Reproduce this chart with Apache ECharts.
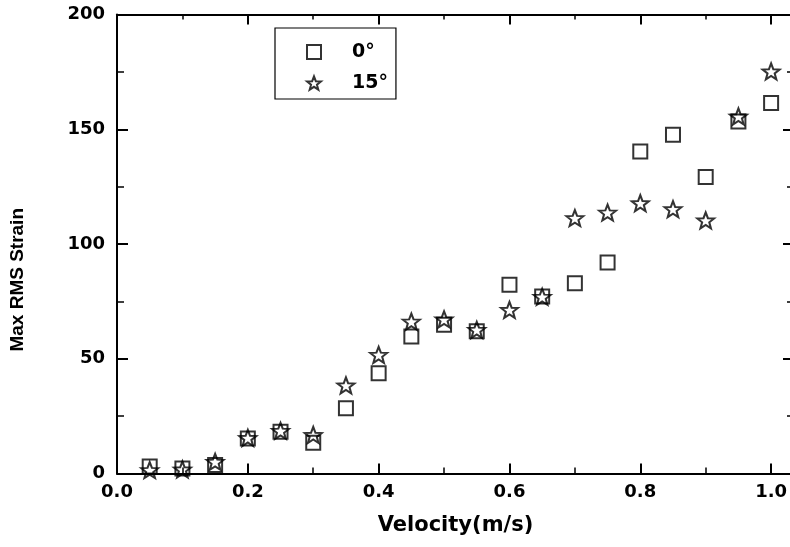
<!DOCTYPE html>
<html>
<head>
<meta charset="utf-8">
<script src="https://cdn.jsdelivr.net/npm/echarts@6/dist/echarts.min.js"></script>
<style>html,body{margin:0;padding:0;background:#fff;}#c{width:790px;height:547px;}</style>
</head>
<body>
<div id="c"></div>
<script>
var velocity = [0.05,0.10,0.15,0.20,0.25,0.30,0.35,0.40,0.45,0.50,0.55,0.60,0.65,0.70,0.75,0.80,0.85,0.90,0.95,1.00];
var strain0 = [3.0,2.2,3.7,15.3,18.2,13.4,28.4,43.7,59.7,64.8,62.0,82.2,77.1,82.9,91.9,140.3,147.6,129.2,153.4,161.4];
var strain15 = [1.5,1.8,5.1,15.5,18.6,16.8,38.4,51.7,66.2,67.2,62.6,71.3,77.0,111.3,113.7,117.8,115.2,110.3,155.6,175.2];
var xTicks = [0.0,0.2,0.4,0.6,0.8,1.0];
var yTicks = [0,50,100,150,200];
var seriesNames = ['0°','15°'];

var STAR = 'path://M100,0 L124.7,66 L195.1,69.1 L139.9,113 L158.8,180.9 L100,142 L41.2,180.9 L60.1,113 L4.9,69.1 L75.3,66 Z';
function pairs(xs, ys){ return xs.map(function(x,i){ return [x, ys[i]]; }); }

var hFont = 'DejaVu Sans';
var chart = echarts.init(document.getElementById('c'), null, {renderer:'canvas'});
function axisLine(){ return {show:true, onZero:false, lineStyle:{color:'#000', width:2}}; }
chart.setOption({
  animation:false,
  backgroundColor:'#fff',
  grid:{left:117, top:14.5, width:677, height:459, containLabel:false, outerBoundsMode:'none'},
  xAxis:[{
    type:'value', min:0, max:1.035, interval:0.2, position:'bottom',
    name:'Velocity(m/s)', nameLocation:'middle', nameGap:42,
    nameTextStyle:{fontFamily:hFont, fontWeight:'bold', fontSize:21, color:'#000'},
    axisLine:axisLine(),
    axisTick:{show:true, inside:true, length:10, lineStyle:{color:'#000', width:2}},
    minorTick:{show:true, splitNumber:2, length:6, lineStyle:{color:'#000', width:1.5}},
    axisLabel:{fontFamily:hFont, fontWeight:'bold', fontSize:18, color:'#000', margin:10, showMaxLabel:false,
      formatter:function(v){ return xTicks.some(function(t){return Math.abs(t-v)<1e-6;}) ? v.toFixed(1) : ''; }},
    splitLine:{show:false}
  },{
    type:'value', min:0, max:1.035, interval:0.2, position:'top',
    axisLine:axisLine(),
    axisTick:{show:true, inside:true, length:10, lineStyle:{color:'#000', width:2}},
    minorTick:{show:true, splitNumber:2, length:5, lineStyle:{color:'#000', width:1.5}},
    axisLabel:{show:false}, splitLine:{show:false}
  }],
  yAxis:[{
    type:'value', min:0, max:200, interval:50, position:'left',
    axisLine:axisLine(),
    axisTick:{show:true, inside:true, length:11, lineStyle:{color:'#000', width:2}},
    minorTick:{show:true, splitNumber:2, length:7, lineStyle:{color:'#000', width:1.5}},
    axisLabel:{fontFamily:hFont, fontWeight:'bold', fontSize:18, color:'#000', margin:12,
      formatter:function(v){ return yTicks.indexOf(v) >= 0 ? String(v) : ''; }},
    splitLine:{show:false}
  },{
    type:'value', min:0, max:200, interval:50, position:'right',
    axisLine:axisLine(),
    axisTick:{show:true, inside:true, length:11, lineStyle:{color:'#000', width:2}},
    minorTick:{show:true, splitNumber:2, length:7, lineStyle:{color:'#000', width:1.5}},
    axisLabel:{show:false}, splitLine:{show:false}
  }],
  legend:{
    orient:'vertical', left:275, top:28,
    padding:[14,8,6,31], itemGap:11, itemWidth:14, itemHeight:14,
    borderColor:'#000', borderWidth:1.2, backgroundColor:'#fff',
    textStyle:{fontFamily:hFont, fontWeight:'bold', fontSize:19, color:'#000', padding:[0,0,0,26], lineHeight:20},
    data:[seriesNames[0], seriesNames[1]]
  },
  graphic:[{
    type:'text', left:8, top:208, rotation:Math.PI/2,
    style:{text:'Max RMS Strain', fontFamily:'Liberation Sans', fontWeight:'bold', fontSize:19, fill:'#000'}
  }],
  series:[{
    name:seriesNames[0], type:'scatter', data:pairs(velocity, strain0),
    symbol:'rect', symbolSize:[14,14],
    itemStyle:{color:'rgba(0,0,0,0)', borderColor:'#000', borderWidth:2}
  },{
    name:seriesNames[1], type:'scatter', data:pairs(velocity, strain15),
    symbol:STAR, symbolSize:[17,16],
    itemStyle:{color:'rgba(0,0,0,0)', borderColor:'#000', borderWidth:2}
  }]
});
</script>
</body>
</html>
